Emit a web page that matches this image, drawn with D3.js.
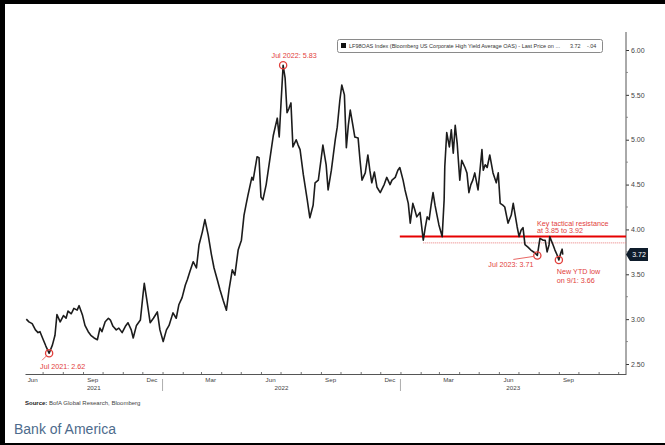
<!DOCTYPE html>
<html><head><meta charset="utf-8">
<script src="https://cdn.jsdelivr.net/npm/d3@7"></script>
<style>html,body{margin:0;padding:0;background:#fff;} svg{display:block;}</style>
</head><body><svg id="c" width="665" height="445"></svg>
<script>
const dates = [
"2021-06-06","2021-06-10","2021-06-15","2021-06-20","2021-06-24","2021-06-27","2021-07-02","2021-07-06","2021-07-11","2021-07-16",
"2021-07-20","2021-07-23","2021-07-28","2021-08-02","2021-08-06","2021-08-09","2021-08-14","2021-08-18","2021-08-23","2021-08-26",
"2021-08-31","2021-09-04","2021-09-09","2021-09-13","2021-09-18","2021-09-23","2021-09-27","2021-09-30","2021-10-05","2021-10-10",
"2021-10-13","2021-10-17","2021-10-22","2021-10-26","2021-10-31","2021-11-05","2021-11-09","2021-11-14","2021-11-17","2021-11-22",
"2021-11-28","2021-12-02","2021-12-04","2021-12-08","2021-12-13","2021-12-18","2021-12-24","2021-12-28","2022-01-02","2022-01-07",
"2022-01-11","2022-01-17","2022-01-22","2022-01-26","2022-01-31","2022-02-05","2022-02-08","2022-02-12","2022-02-17","2022-02-22",
"2022-02-26","2022-03-03","2022-03-07","2022-03-12","2022-03-17","2022-03-21","2022-03-26","2022-03-30","2022-04-04","2022-04-09",
"2022-04-13","2022-04-18","2022-04-22","2022-04-27","2022-05-02","2022-05-06","2022-05-09","2022-05-12","2022-05-18","2022-05-20",
"2022-05-26","2022-05-29","2022-06-01","2022-06-04","2022-06-09","2022-06-15","2022-06-20","2022-06-26","2022-06-29","2022-07-02",
"2022-07-05","2022-07-08","2022-07-11","2022-07-14","2022-07-17","2022-07-20","2022-07-25","2022-07-28","2022-07-31","2022-08-05",
"2022-08-11","2022-08-15","2022-08-20","2022-08-23","2022-08-28","2022-09-01","2022-09-04","2022-09-09","2022-09-12","2022-09-17",
"2022-09-20","2022-09-23","2022-09-26","2022-09-30","2022-10-03","2022-10-07","2022-10-10","2022-10-13","2022-10-16","2022-10-20",
"2022-10-23","2022-10-28","2022-10-31","2022-11-03","2022-11-08","2022-11-12","2022-11-15","2022-11-18","2022-11-22","2022-11-26",
"2022-12-01","2022-12-07","2022-12-11","2022-12-16","2022-12-19","2022-12-24","2022-12-28","2022-12-31","2023-01-05","2023-01-08",
"2023-01-13","2023-01-16","2023-01-20","2023-01-23","2023-01-26","2023-01-31","2023-02-05","2023-02-08","2023-02-11","2023-02-14",
"2023-02-17","2023-02-20","2023-02-23","2023-02-26","2023-03-01","2023-03-06","2023-03-09","2023-03-10","2023-03-13","2023-03-17",
"2023-03-20","2023-03-23","2023-03-26","2023-03-29","2023-04-02","2023-04-05","2023-04-10","2023-04-13","2023-04-16","2023-04-19",
"2023-04-22","2023-04-25","2023-04-30","2023-05-03","2023-05-06","2023-05-08","2023-05-11","2023-05-14","2023-05-18","2023-05-23",
"2023-05-28","2023-05-31","2023-06-03","2023-06-07","2023-06-10","2023-06-15","2023-06-20","2023-06-23","2023-06-26","2023-06-29",
"2023-07-02","2023-07-05","2023-07-08","2023-07-11","2023-07-16","2023-07-20","2023-07-26","2023-07-30","2023-08-03","2023-08-08",
"2023-08-11","2023-08-14","2023-08-17","2023-08-18","2023-08-23","2023-08-26","2023-08-29","2023-09-01","2023-09-04","2023-09-06",
"2023-09-07"
];
const values = [
3.00,2.97,2.95,2.88,2.85,2.86,2.77,2.70,2.62,2.71,
2.82,3.05,2.97,3.04,3.01,3.09,3.06,3.12,3.10,3.15,
3.05,2.93,2.86,2.82,2.79,2.77,2.90,2.86,2.97,3.01,
2.99,2.92,2.88,2.90,2.85,2.92,2.96,2.88,2.79,2.93,
2.99,3.27,3.40,3.21,2.96,3.01,3.08,2.88,2.75,2.88,
2.93,3.07,3.01,3.16,3.24,3.38,3.44,3.53,3.64,3.57,
3.83,3.97,4.11,3.94,3.72,3.57,3.44,3.33,3.21,3.10,
3.33,3.55,3.49,3.77,3.88,4.16,4.27,4.38,4.58,4.55,
4.81,4.80,4.36,4.33,4.50,4.80,5.05,5.24,5.03,5.44,
5.83,5.69,5.30,5.35,5.41,4.92,5.00,4.94,4.89,4.61,
4.33,4.13,4.27,4.52,4.55,4.77,4.94,4.72,4.44,4.66,
4.83,5.00,5.14,5.44,5.61,5.50,4.91,5.16,5.33,5.16,
5.03,5.02,4.77,4.55,4.63,4.83,4.66,4.52,4.64,4.47,
4.41,4.50,4.58,4.50,4.55,4.58,4.66,4.69,4.55,4.44,
4.29,4.07,4.29,4.22,4.14,4.19,3.88,4.02,4.14,4.11,
4.27,4.41,4.27,4.16,4.05,3.92,4.33,4.70,5.08,4.92,
5.11,4.85,5.16,4.96,4.55,4.77,4.69,4.63,4.41,4.50,
4.55,4.63,4.44,4.66,4.89,4.66,4.72,4.69,4.83,4.63,
4.52,4.63,4.29,4.27,4.25,4.07,4.16,4.29,4.16,4.03,
3.92,3.99,4.02,3.83,3.80,3.77,3.74,3.71,3.90,3.88,
3.88,3.75,3.83,3.92,3.83,3.77,3.72,3.66,3.74,3.78,
3.72
];
const monthLabels = ["Jun","Sep","Dec","Mar","Jun","Sep","Dec","Mar","Jun","Sep"];
const monthLabelDates = ["2021-06-15","2021-09-15","2021-12-15","2022-03-15","2022-06-15","2022-09-15","2022-12-15","2023-03-15","2023-06-15","2023-09-15"];
const yearLabels = ["2021","2022","2023"];
const yearStarts = ["2022-01-01","2023-01-01"];
const yTicks = [2.5,3.0,3.5,4.0,4.5,5.0,5.5,6.0];
const yMinorTicks = [2.75,3.25,3.75,4.25,4.75,5.25,5.75];
const resistanceHigh = 3.92, resistanceLow = 3.85;
const lastPrice = 3.72, lastChange = "-.04";
const legendText = "LF98OAS Index (Bloomberg US Corporate High Yield Average OAS) - Last Price on ...";
const callouts = [
  {date:"2021-07-11", value:2.62, label:"Jul 2021: 2.62"},
  {date:"2022-07-05", value:5.83, label:"Jul 2022: 5.83"},
  {date:"2023-07-30", value:3.71, label:"Jul 2023: 3.71"},
  {date:"2023-09-01", value:3.66, label:["New YTD low","on 9/1: 3.66"]}
];
const resistanceLabel = ["Key tactical resistance","at 3.85 to 3.92"];
const sourceBold = "Source:", sourceText = " BofA Global Research, Bloomberg";
const footer = "Bank of America";

const parse = d3.timeParse("%Y-%m-%d");
const data = dates.map((d,i)=>({date:parse(d), value:values[i]}));
const svg = d3.select("#c");
const FONT = "'Liberation Sans', Arial, sans-serif";
const RED = "#e2403c";

svg.append("rect").attr("width",665).attr("height",445).attr("fill","#fff");

const x = d3.scaleTime().domain([parse("2021-06-04"), parse("2023-12-13")]).range([25,626]);
const y = d3.scaleLinear().domain([2.5,6.0]).range([364,50]);
const axisY = 374;

const xAxis = d3.axisBottom(x).ticks(d3.timeMonth.every(1)).tickSize(-2).tickSizeOuter(0).tickFormat("");
const gx = svg.append("g").attr("transform",`translate(0,${axisY})`).call(xAxis);
gx.select(".domain").attr("stroke","#555").attr("stroke-width",1);
gx.selectAll(".tick line").attr("stroke","#777");
const gxl = svg.append("g").attr("transform",`translate(0,${axisY})`)
  .call(d3.axisBottom(x).tickValues(monthLabelDates.map(parse)).tickSize(0).tickPadding(4).tickFormat((d,i)=>monthLabels[i]));
gxl.select(".domain").remove();
gxl.selectAll("text").attr("font-family",FONT).attr("font-size",6.2).attr("fill","#444");

const yearBounds = [x.domain()[0], ...yearStarts.map(parse), x.domain()[1]];
yearLabels.forEach((t,i)=>{
  const cx = (x(yearBounds[i]) + x(yearBounds[i+1]))/2;
  svg.append("text").attr("x",cx).attr("y",390).attr("text-anchor","middle")
    .attr("font-family",FONT).attr("font-size",6.2).attr("fill","#444").text(t);
});
yearStarts.forEach(d=>{
  svg.append("line").attr("x1",x(parse(d))).attr("x2",x(parse(d))).attr("y1",379).attr("y2",391)
    .attr("stroke","#999").attr("stroke-width",0.8);
});

const gy = svg.append("g").attr("transform","translate(626,0)")
  .call(d3.axisRight(y).tickValues(yTicks).tickSize(3).tickSizeOuter(0).tickPadding(2).tickFormat(d3.format(".2f")));
gy.select(".domain").remove();
gy.selectAll(".tick line").attr("stroke","#333");
gy.selectAll("text").attr("font-family",FONT).attr("font-size",7).attr("fill","#444");
svg.append("line").attr("x1",626).attr("x2",626).attr("y1",32).attr("y2",axisY).attr("stroke","#555").attr("stroke-width",1);
svg.append("g").selectAll("line").data(yMinorTicks).join("line")
  .attr("x1",626).attr("x2",628).attr("y1",d=>y(d)).attr("y2",d=>y(d)).attr("stroke","#777").attr("stroke-width",0.8);

const lastDate = x.domain()[1];
svg.append("line").attr("x1",x(parse("2023-02-05"))).attr("x2",x(lastDate))
  .attr("y1",y(resistanceLow)).attr("y2",y(resistanceLow))
  .attr("stroke","#e87a7a").attr("stroke-width",1).attr("stroke-dasharray","1,1");
svg.append("line").attr("x1",x(parse("2022-12-31"))).attr("x2",x(lastDate))
  .attr("y1",y(resistanceHigh)).attr("y2",y(resistanceHigh))
  .attr("stroke","#e60000").attr("stroke-width",2);

svg.append("path").datum(data)
  .attr("d",d3.line().x(d=>x(d.date)).y(d=>y(d.value)))
  .attr("fill","none").attr("stroke","#1c1c1c").attr("stroke-width",1.6).attr("stroke-linejoin","round");

const cx = callouts.map(c=>({...c, px:x(parse(c.date)), py:y(c.value)}));
cx.forEach(c=>{
  svg.append("circle").attr("cx",c.px).attr("cy",c.py).attr("r",3.6)
    .attr("fill","none").attr("stroke",RED).attr("stroke-width",1.3);
});
const tx = (xx,yy,t,anchor)=>svg.append("text").attr("x",xx).attr("y",yy)
  .attr("text-anchor",anchor||"start").attr("font-family",FONT).attr("font-size",7.2).attr("fill",RED).text(t);
svg.append("line").attr("x1",cx[0].px-2.5).attr("y1",cx[0].py+2.5).attr("x2",cx[0].px-7).attr("y2",cx[0].py+7)
  .attr("stroke",RED).attr("stroke-width",0.8);
tx(cx[0].px-9, cx[0].py+15.5, cx[0].label);
tx(cx[1].px+11, cx[1].py-7, cx[1].label, "middle");
svg.append("line").attr("x1",cx[2].px-4).attr("y1",cx[2].py+1).attr("x2",cx[2].px-24).attr("y2",cx[2].py+4)
  .attr("stroke",RED).attr("stroke-width",0.8);
tx(cx[2].px-49, cx[2].py+12, cx[2].label);
tx(cx[3].px-2, cx[3].py+14.5, cx[3].label[0]);
tx(cx[3].px-2, cx[3].py+23.5, cx[3].label[1]);
tx(537, y(resistanceHigh)-11, resistanceLabel[0]);
tx(537, y(resistanceHigh)-3.5, resistanceLabel[1]);

const ly = y(lastPrice);
svg.append("path").attr("d",`M626,${ly} L630,${ly-6.5} L648,${ly-6.5} L648,${ly+6.5} L630,${ly+6.5} Z`).attr("fill","#0e1c2b");
svg.append("text").attr("x",639).attr("y",ly+2.5).attr("text-anchor","middle")
  .attr("font-family",FONT).attr("font-size",7).attr("fill","#fff").text(d3.format(".2f")(lastPrice));

svg.append("rect").attr("x",337.5).attr("y",39.5).attr("width",265).attr("height",13).attr("rx",2)
  .attr("fill","#fff").attr("stroke","#8a8a8a").attr("stroke-width",1);
svg.append("rect").attr("x",341).attr("y",43).attr("width",5).attr("height",5).attr("fill","#111");
svg.append("text").attr("x",349).attr("y",48.3).attr("font-family",FONT).attr("font-size",5.4).attr("fill","#333")
  .attr("textLength",211).attr("lengthAdjust","spacingAndGlyphs").text(legendText);
svg.append("text").attr("x",570).attr("y",48.3).attr("font-family",FONT).attr("font-size",5.4).attr("fill","#333").text(d3.format(".2f")(lastPrice));
svg.append("text").attr("x",587).attr("y",48.3).attr("font-family",FONT).attr("font-size",5.4).attr("fill","#333").text(lastChange);

const st = svg.append("text").attr("x",25).attr("y",404.5).attr("font-family",FONT).attr("font-size",6).attr("fill","#444");
st.append("tspan").attr("font-weight","bold").attr("fill","#222").text(sourceBold);
st.append("tspan").text(sourceText);

svg.append("text").attr("x",14).attr("y",434).attr("font-family",FONT).attr("font-size",14).attr("fill","#4d6b8c").text(footer);

svg.append("rect").attr("x",0).attr("y",0).attr("width",665).attr("height",4).attr("fill","#000");
svg.append("rect").attr("x",0).attr("y",0).attr("width",5).attr("height",445).attr("fill","#000");
svg.append("rect").attr("x",0).attr("y",443).attr("width",665).attr("height",2).attr("fill","#000");
</script></body></html>
